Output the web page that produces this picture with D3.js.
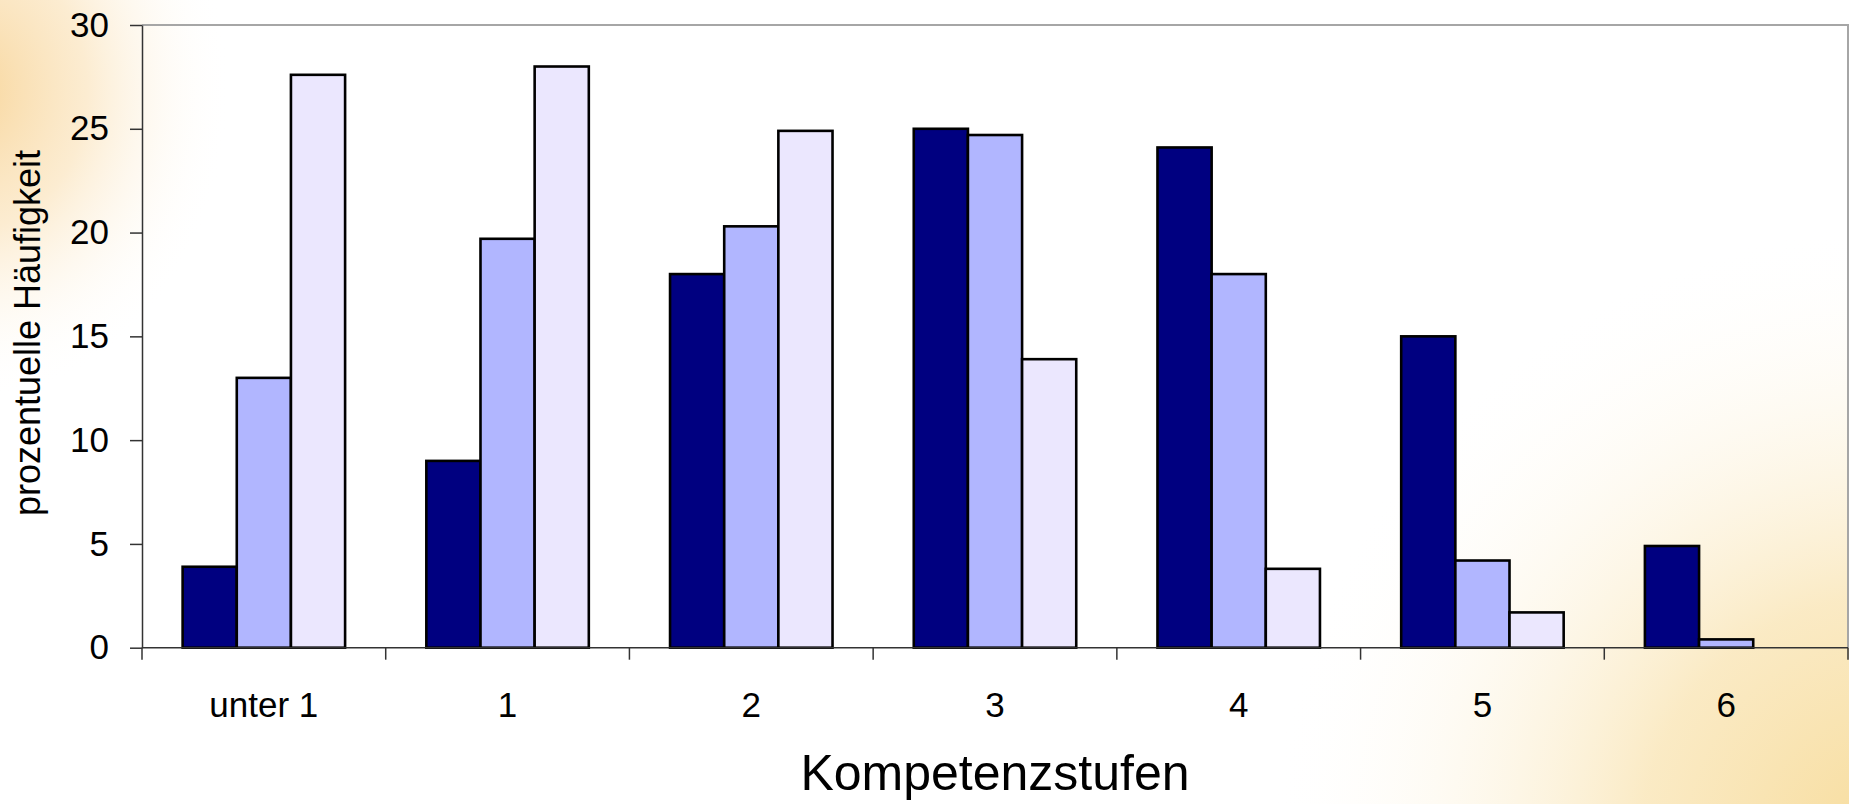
<!DOCTYPE html>
<html>
<head>
<meta charset="utf-8">
<script src="https://cdn.jsdelivr.net/npm/d3@7"></script>
<style>
  html, body { margin: 0; padding: 0; background: #fff; }
  svg { display: block; font-family: "Liberation Sans", Arial, sans-serif; }
</style>
</head>
<body>
<svg id="chart" width="1849" height="804"></svg>
<script>
// Competence levels (x categories)
const categories = ["unter 1", "1", "2", "3", "4", "5", "6"];
// Percentage frequency for each of the three groups
const seriesA = [3.9, 9.0, 18.0, 25.0, 24.1, 15.0, 4.9];
const seriesB = [13.0, 19.7, 20.3, 24.7, 18.0, 4.2, 0.4];
const seriesC = [27.6, 28.0, 24.9, 13.9, 3.8, 1.7, 0];
const seriesNames = ["A", "B", "C"];
const seriesColors = ["#000080", "#B1B6FF", "#EBE7FE"];
const yTicks = [0, 5, 10, 15, 20, 25, 30];

const W = 1849, H = 804;
const plot = { left: 142, right: 1848, top: 25, bottom: 647.7 };

const svg = d3.select("#chart");

// Warm background glows in the top-left and bottom-right corners
const defs = svg.append("defs");
const g1 = defs.append("radialGradient").attr("id", "glowTL")
  .attr("gradientUnits", "userSpaceOnUse")
  .attr("cx", -30).attr("cy", 90).attr("r", 260)
  .attr("gradientTransform", "translate(-30,90) scale(1,1.2) translate(30,-90)");
g1.append("stop").attr("offset", "0").attr("stop-color", "#F8D69C").attr("stop-opacity", 1);
g1.append("stop").attr("offset", "0.45").attr("stop-color", "#FBE6C2").attr("stop-opacity", 0.75);
g1.append("stop").attr("offset", "1").attr("stop-color", "#FFFFFF").attr("stop-opacity", 0);

const g2 = defs.append("radialGradient").attr("id", "glowBR")
  .attr("gradientUnits", "userSpaceOnUse")
  .attr("cx", W + 40).attr("cy", H + 40).attr("r", 620);
g2.append("stop").attr("offset", "0").attr("stop-color", "#F7DC9C").attr("stop-opacity", 1);
g2.append("stop").attr("offset", "0.4").attr("stop-color", "#FAE8BE").attr("stop-opacity", 0.9);
g2.append("stop").attr("offset", "1").attr("stop-color", "#FFFFFF").attr("stop-opacity", 0);

svg.append("rect").attr("width", W).attr("height", H).attr("fill", "#fff");
svg.append("rect").attr("width", W).attr("height", H).attr("fill", "url(#glowTL)");
svg.append("rect").attr("width", W).attr("height", H).attr("fill", "url(#glowBR)");

// Scales
const x = d3.scaleBand()
  .domain(categories)
  .range([plot.left, plot.right])
  .paddingInner(1 / 3)
  .paddingOuter(1 / 6);
const xs = d3.scaleBand().domain(seriesNames).range([0, x.bandwidth()]).padding(0);
const y = d3.scaleLinear().domain([0, 30]).range([plot.bottom, plot.top]);

// Plot frame (top and right sides)
svg.append("path")
  .attr("d", `M${plot.left},${plot.top}H${plot.right}V${plot.bottom}`)
  .attr("fill", "none").attr("stroke", "#A6A6A6").attr("stroke-width", 2);

// Bars
const data = categories.map((c, i) => ({
  cat: c,
  vals: [seriesA[i], seriesB[i], seriesC[i]]
}));
const groups = svg.append("g").selectAll("g").data(data).join("g")
  .attr("transform", d => `translate(${x(d.cat)},0)`);
groups.selectAll("rect")
  .data(d => d.vals.map((v, j) => ({ v, s: seriesNames[j], j })).filter(e => e.v > 0))
  .join("rect")
  .attr("x", e => xs(e.s))
  .attr("width", xs.bandwidth())
  .attr("y", e => y(e.v))
  .attr("height", e => y(0) - y(e.v))
  .attr("fill", e => seriesColors[e.j])
  .attr("stroke", "#000")
  .attr("stroke-width", 2.6);

// Y axis
const yAxis = svg.append("g")
  .attr("transform", `translate(${plot.left},0)`)
  .call(d3.axisLeft(y).tickValues(yTicks).tickSize(12).tickPadding(21).tickSizeOuter(0));
yAxis.select(".domain").attr("stroke", "#333").attr("stroke-width", 1.5);
yAxis.selectAll(".tick line").attr("stroke", "#333").attr("stroke-width", 1.5);
yAxis.selectAll(".tick text")
  .attr("font-size", 35).attr("fill", "#000")
  .attr("font-family", "Liberation Sans, Arial, sans-serif");

// X axis baseline, boundary ticks and labels
const step = x.step();
const boundaries = d3.range(categories.length + 1).map(i => plot.left + i * step);
svg.append("line")
  .attr("x1", plot.left).attr("x2", plot.right)
  .attr("y1", y(0)).attr("y2", y(0))
  .attr("stroke", "#333").attr("stroke-width", 1.5);
svg.append("g").selectAll("line").data(boundaries).join("line")
  .attr("x1", d => d).attr("x2", d => d)
  .attr("y1", y(0)).attr("y2", y(0) + 12)
  .attr("stroke", "#333").attr("stroke-width", 1.5);
svg.append("g").selectAll("text").data(categories).join("text")
  .attr("x", d => x(d) + x.bandwidth() / 2)
  .attr("y", 717)
  .attr("text-anchor", "middle")
  .attr("font-size", 35)
  .attr("fill", "#000")
  .text(d => d);

// Axis titles
svg.append("text")
  .attr("x", (plot.left + plot.right) / 2)
  .attr("y", 790)
  .attr("text-anchor", "middle")
  .attr("font-size", 50)
  .attr("fill", "#000")
  .text("Kompetenzstufen");

svg.append("text")
  .attr("transform", "translate(40,333) rotate(-90)")
  .attr("text-anchor", "middle")
  .attr("font-size", 36)
  .attr("fill", "#000")
  .text("prozentuelle Häufigkeit");
</script>
</body>
</html>
